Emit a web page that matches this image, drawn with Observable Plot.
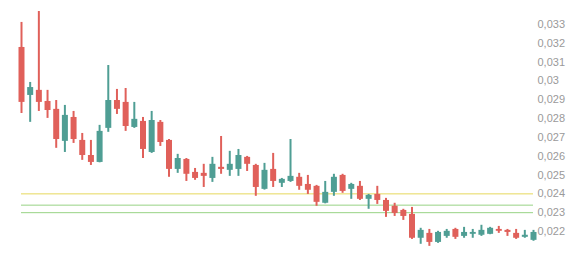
<!DOCTYPE html>
<html>
<head>
<meta charset="utf-8">
<script src="https://cdn.jsdelivr.net/npm/d3@7"></script>
<script src="https://cdn.jsdelivr.net/npm/@observablehq/plot@0.6"></script>
<style>
  html, body { margin: 0; padding: 0; background: #fff; }
  #chart svg { display: block; }
</style>
</head>
<body>
<div id="chart"></div>
<script>
const opens  = [0.03178,0.02923,0.02950,0.02891,0.02849,0.02679,0.02806,0.02684,0.02604,0.02567,
                0.02748,0.02896,0.02886,0.02753,0.02785,0.02620,0.02780,0.02684,0.02530,0.02583,
                0.02514,0.02509,0.02482,0.02541,0.02525,0.02530,0.02594,0.02551,0.02424,0.02530,
                0.02456,0.02466,0.02488,0.02450,0.02440,0.02350,0.02408,0.02498,0.02424,0.02440,
                0.02371,0.02397,0.02365,0.02334,0.02312,0.02291,0.02164,0.02190,0.02142,0.02174,
                0.02211,0.02174,0.02185,0.02180,0.02185,0.02211,0.02206,0.02190,0.02169,0.02153];
const closes = [0.02886,0.02965,0.02886,0.02843,0.02689,0.02817,0.02689,0.02604,0.02567,0.02732,
                0.02896,0.02849,0.02758,0.02796,0.02636,0.02790,0.02673,0.02530,0.02588,0.02504,
                0.02482,0.02493,0.02557,0.02530,0.02557,0.02604,0.02557,0.02434,0.02525,0.02466,
                0.02477,0.02493,0.02440,0.02419,0.02355,0.02408,0.02488,0.02413,0.02450,0.02371,
                0.02392,0.02365,0.02307,0.02296,0.02280,0.02164,0.02206,0.02142,0.02195,0.02201,
                0.02169,0.02195,0.02195,0.02206,0.02217,0.02201,0.02195,0.02164,0.02180,0.02195];
const highs  = [0.03311,0.02992,0.03369,0.02950,0.02896,0.02870,0.02838,0.02721,0.02684,0.02764,
                0.03082,0.02955,0.02960,0.02886,0.02806,0.02838,0.02790,0.02689,0.02610,0.02588,
                0.02535,0.02557,0.02594,0.02705,0.02626,0.02636,0.02599,0.02557,0.02562,0.02615,
                0.02482,0.02689,0.02509,0.02498,0.02445,0.02466,0.02504,0.02504,0.02456,0.02466,
                0.02397,0.02440,0.02376,0.02350,0.02318,0.02328,0.02217,0.02211,0.02201,0.02211,
                0.02217,0.02222,0.02211,0.02233,0.02222,0.02227,0.02211,0.02211,0.02206,0.02206];
const lows   = [0.02827,0.02780,0.02838,0.02801,0.02642,0.02620,0.02668,0.02578,0.02551,0.02565,
                0.02727,0.02822,0.02732,0.02748,0.02588,0.02615,0.02652,0.02488,0.02509,0.02466,
                0.02472,0.02434,0.02461,0.02504,0.02493,0.02493,0.02519,0.02387,0.02420,0.02434,
                0.02434,0.02461,0.02419,0.02397,0.02334,0.02347,0.02387,0.02403,0.02371,0.02365,
                0.02318,0.02344,0.02275,0.02280,0.02259,0.02158,0.02132,0.02121,0.02137,0.02164,
                0.02158,0.02164,0.02164,0.02174,0.02183,0.02190,0.02174,0.02158,0.02164,0.02148];
const levelValues = [0.0240, 0.0234, 0.0230];
const levelColors = ["#e6d85c", "#98d384", "#98d384"];
const yTicks = [0.022,0.023,0.024,0.025,0.026,0.027,0.028,0.029,0.030,0.031,0.032,0.033];

const candles = opens.map((o, i) => ({i, open: o, close: closes[i], high: highs[i], low: lows[i], up: closes[i] >= o}));
const levels = levelValues.map((v, k) => ({v, c: levelColors[k]}));
const UP = "#4f9e94", DOWN = "#e0605a";

const chart = Plot.plot({
  width: 584,
  height: 258,
  marginLeft: 21,
  marginRight: 51,
  marginTop: 24,
  marginBottom: 27,
  style: {fontFamily: "'Liberation Sans', Arial, sans-serif", fontSize: "11px", color: "#9a9a9a", background: "#fff"},
  x: {domain: [0, candles.length - 1], axis: null},
  y: {domain: [0.022, 0.033], axis: "right", ticks: yTicks, tickSize: 0, tickPadding: 4,
      tickFormat: d => String(+d.toFixed(3)).replace(".", ","), label: null},
  marks: [
    Plot.ruleY(levels, {y: "v", stroke: "c", strokeWidth: 1}),
    Plot.ruleX(candles, {x: "i", y1: "low", y2: "high", stroke: d => d.up ? UP : DOWN, strokeWidth: 2}),
    Plot.ruleX(candles, {x: "i", y1: "open", y2: "close", stroke: d => d.up ? UP : DOWN, strokeWidth: 6})
  ]
});
document.getElementById("chart").appendChild(chart);
</script>
</body>
</html>
